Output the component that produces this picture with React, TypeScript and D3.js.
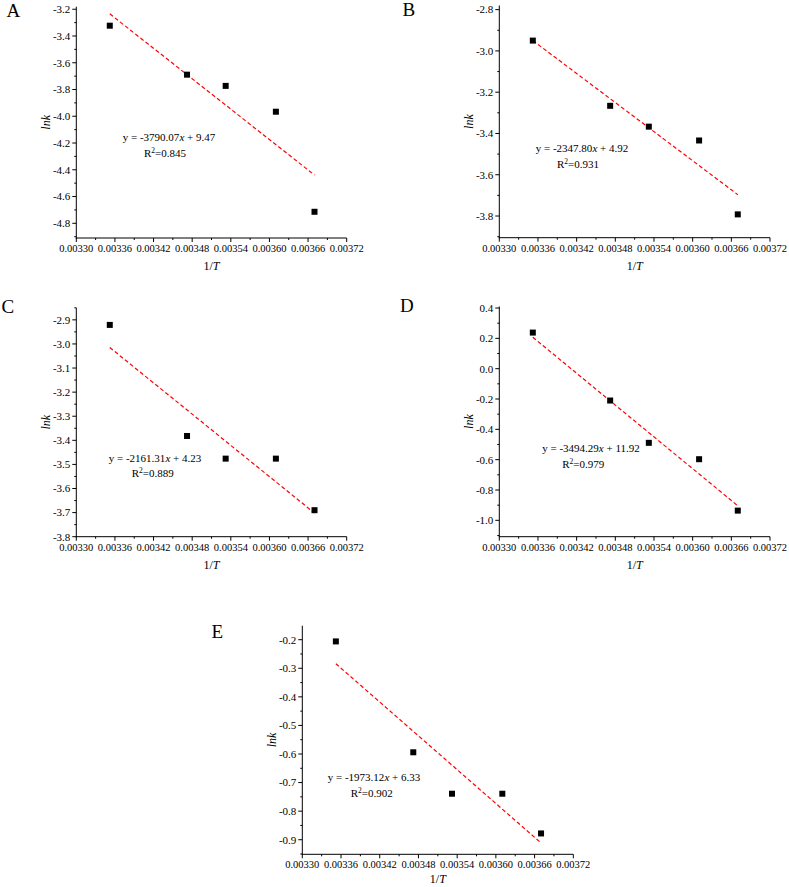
import React from 'react';
import * as d3 from 'd3';

// ---- data ----
const invT = [0.003352, 0.003472, 0.003532, 0.00361, 0.00367];
const lnkA = [-3.323, -3.689, -3.773, -3.966, -4.714];
const lnkB = [-2.95, -3.266, -3.367, -3.434, -3.792];
const lnkC = [-2.921, -3.382, -3.476, -3.476, -3.69];
const lnkD = [0.238, -0.21, -0.489, -0.597, -0.936];
const lnkE = [-0.206, -0.594, -0.739, -0.739, -0.878];
const panelNames = ['A', 'B', 'C', 'D', 'E'];
const slopes = [-3790.07, -2347.8, -2161.31, -3494.29, -1973.12];
const intercepts = [9.47, 4.92, 4.23, 11.92, 6.33];
const r2Values = ['0.845', '0.931', '0.889', '0.979', '0.902'];
const xTicks = [0.0033, 0.00336, 0.00342, 0.00348, 0.00354, 0.0036, 0.00366, 0.00372];
const yTicksA = [-4.8, -4.6, -4.4, -4.2, -4.0, -3.8, -3.6, -3.4, -3.2];
const yTicksB = [-3.8, -3.6, -3.4, -3.2, -3.0, -2.8];
const yTicksC = [-3.8, -3.7, -3.6, -3.5, -3.4, -3.3, -3.2, -3.1, -3.0, -2.9];
const yTicksD = [-1.0, -0.8, -0.6, -0.4, -0.2, 0.0, 0.2, 0.4];
const yTicksE = [-0.9, -0.8, -0.7, -0.6, -0.5, -0.4, -0.3, -0.2];
const yDomains: [number, number][] = [
  [-4.91, -3.181],
  [-3.905, -2.78],
  [-3.8, -2.85],
  [-1.108, 0.41],
];
const yDomainE: [number, number] = [-0.951, -0.151];

// ---- layout ----
const FONT = '"Liberation Serif", "Times New Roman", serif';
type Layout = {
  left: number; right: number; top: number; bottom: number;
  eqX: number; eqY: number; r2X: number; r2Y: number;
  letterX: number; letterY: number; xTitleDy: number;
};
const layouts: Layout[] = [
  { left: 76.3, right: 346.7, top: 6.7, bottom: 238, eqX: 169, eqY: 141, r2X: 165, r2Y: 156.5, letterX: 6.5, letterY: 16.5, xTitleDy: 32 },
  { left: 499.3, right: 770, top: 5.5, bottom: 237.7, eqX: 582, eqY: 151.5, r2X: 578, r2Y: 168, letterX: 402.5, letterY: 16, xTitleDy: 32 },
  { left: 76.3, right: 346.7, top: 307.8, bottom: 536.7, eqX: 155, eqY: 461.5, r2X: 152.7, r2Y: 477, letterX: 1.5, letterY: 313, xTitleDy: 32 },
  { left: 499.3, right: 770, top: 306.5, bottom: 536.7, eqX: 591, eqY: 452, r2X: 583.3, r2Y: 468, letterX: 400, letterY: 312, xTitleDy: 32 },
  { left: 302.3, right: 573.3, top: 625.7, bottom: 854.3, eqX: 374, eqY: 780.5, r2X: 371.7, r2Y: 796.5, letterX: 211.5, letterY: 638, xTitleDy: 28.5 },
];

function fmtX(v: number) {
  return v.toFixed(5);
}
function fmtY(v: number) {
  const s = Math.abs(v) < 1e-9 ? '0.0' : v.toFixed(1);
  return s;
}

type PanelProps = {
  idx: number;
  values: number[];
  yTicks: number[];
  yDomain: [number, number];
  minorStep: number;
};

function Panel({ idx, values, yTicks, yDomain, minorStep }: PanelProps) {
  const L = layouts[idx];
  const x = d3.scaleLinear().domain([0.0033, 0.00372]).range([L.left, L.right]);
  const y = d3.scaleLinear().domain(yDomain).range([L.bottom, L.top]);
  const xMinor = d3.range(0.0033 + 0.00003, 0.00372, 0.00006);
  const yMinor: number[] = [];
  const start = Math.ceil((yDomain[0] - 1e-9) / minorStep);
  const end = Math.floor((yDomain[1] + 1e-9) / minorStep);
  for (let k = start; k <= end; k++) {
    const v = k * minorStep;
    if (!yTicks.some((t) => Math.abs(t - v) < 1e-6)) yMinor.push(v);
  }
  const fit = (xv: number) => slopes[idx] * xv + intercepts[idx];
  const x0 = invT[0];
  const x1 = invT[invT.length - 1];
  const lineGen = d3.line<number>().x((d) => x(d)).y((d) => y(fit(d)));
  const sq = 6;
  return (
    <g>
      <text x={L.letterX} y={L.letterY} fontSize={19} fontFamily={FONT} fill="#000">
        {panelNames[idx]}
      </text>
      {/* axes */}
      <line x1={L.left} x2={L.left} y1={L.top} y2={L.bottom + 0.5} stroke="#000" strokeWidth={1} />
      <line x1={L.left - 0.5} x2={L.right} y1={L.bottom} y2={L.bottom} stroke="#000" strokeWidth={1} />
      {xTicks.map((t) => (
        <g key={'xt' + t}>
          <line x1={x(t)} x2={x(t)} y1={L.bottom} y2={L.bottom + 4} stroke="#000" strokeWidth={1} />
          <text x={x(t)} y={L.bottom + 14} textAnchor="middle" fontSize={10.5} fontFamily={FONT} fill="#000">
            {fmtX(t)}
          </text>
        </g>
      ))}
      {xMinor.map((t) => (
        <line key={'xm' + t} x1={x(t)} x2={x(t)} y1={L.bottom} y2={L.bottom + 2} stroke="#000" strokeWidth={1} />
      ))}
      {yTicks.map((t) => (
        <g key={'yt' + t}>
          <line x1={L.left - 4} x2={L.left} y1={y(t)} y2={y(t)} stroke="#000" strokeWidth={1} />
          <text x={L.left - 6} y={y(t)} dy="0.35em" textAnchor="end" fontSize={11} fontFamily={FONT} fill="#000">
            {fmtY(t)}
          </text>
        </g>
      ))}
      {yMinor.map((t) => (
        <line key={'ym' + t} x1={L.left - 2} x2={L.left} y1={y(t)} y2={y(t)} stroke="#000" strokeWidth={1} />
      ))}
      {/* axis titles */}
      <text
        x={(L.left + L.right) / 2}
        y={L.bottom + L.xTitleDy}
        textAnchor="middle"
        fontSize={12}
        fontFamily={FONT}
        fill="#000"
      >
        1/<tspan fontStyle="italic">T</tspan>
      </text>
      <text
        transform={`translate(${L.left - 26},${(L.top + L.bottom) / 2}) rotate(-90)`}
        textAnchor="middle"
        fontSize={12}
        fontFamily={FONT}
        fontStyle="italic"
        fill="#000"
      >
        lnk
      </text>
      {/* fit line */}
      <path
        d={lineGen([x0, x1]) || ''}
        fill="none"
        stroke="#ff0000"
        strokeWidth={1.2}
        strokeDasharray="4,2.5"
      />
      {/* points */}
      {invT.map((xv, i) => (
        <rect
          key={'p' + i}
          x={x(xv) - sq / 2}
          y={y(values[i]) - sq / 2}
          width={sq}
          height={sq}
          fill="#000"
        />
      ))}
      {/* equation */}
      <text x={L.eqX} y={L.eqY} textAnchor="middle" fontSize={11} fontFamily={FONT} fill="#000">
        {'y = ' + slopes[idx].toFixed(2)}
        <tspan fontStyle="italic">x</tspan>
        {' + ' + intercepts[idx].toFixed(2)}
      </text>
      <text x={L.r2X} y={L.r2Y} textAnchor="middle" fontSize={11} fontFamily={FONT} fill="#000">
        R<tspan fontSize={7.5} dy={-4}>2</tspan>
        <tspan dy={4}>{'=' + r2Values[idx]}</tspan>
      </text>
    </g>
  );
}

export default function App() {
  return (
    <svg
      width={789}
      height={887}
      viewBox="0 0 789 887"
      style={{ position: 'absolute', left: 0, top: 0, background: '#fff' }}
    >
      <rect x={0} y={0} width={789} height={887} fill="#fff" />
      <Panel idx={0} values={lnkA} yTicks={yTicksA} yDomain={yDomains[0]} minorStep={0.1} />
      <Panel idx={1} values={lnkB} yTicks={yTicksB} yDomain={yDomains[1]} minorStep={0.1} />
      <Panel idx={2} values={lnkC} yTicks={yTicksC} yDomain={yDomains[2]} minorStep={0.05} />
      <Panel idx={3} values={lnkD} yTicks={yTicksD} yDomain={yDomains[3]} minorStep={0.1} />
      <Panel idx={4} values={lnkE} yTicks={yTicksE} yDomain={yDomainE} minorStep={0.05} />
    </svg>
  );
}
